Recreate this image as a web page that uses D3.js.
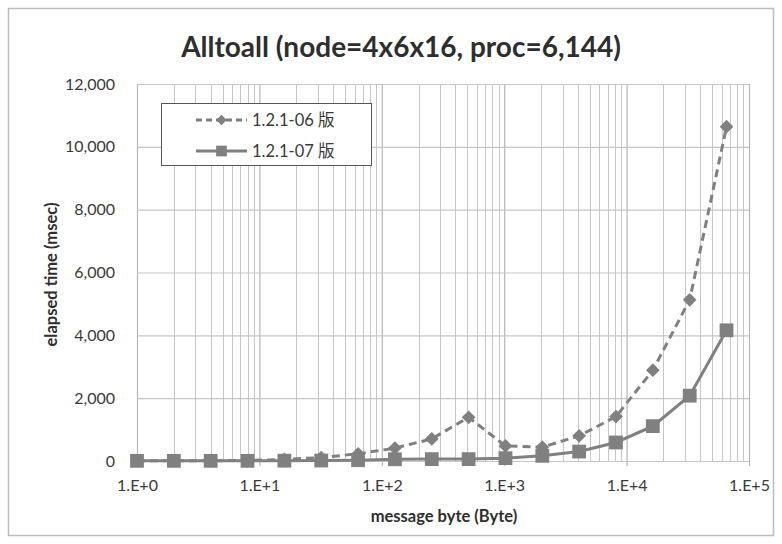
<!DOCTYPE html>
<html>
<head>
<meta charset="utf-8">
<script src="https://cdn.jsdelivr.net/npm/d3@7"></script>
<style>
  html, body { margin: 0; padding: 0; background: #fff; }
  svg { display: block; font-family: Lato, "Noto Sans", sans-serif; }
</style>
</head>
<body>
<svg id="chart" width="782" height="544"></svg>
<script>
  // message sizes in bytes (2^0 .. 2^16)
  const messageBytes = [1, 2, 4, 8, 16, 32, 64, 128, 256, 512, 1024, 2048, 4096, 8192, 16384, 32768, 65536];
  // elapsed time (msec)
  const v06 = [10, 10, 10, 15, 50, 110, 230, 410, 705, 1390, 480, 440, 800, 1415, 2890, 5130, 10640];
  const v07 = [5, 5, 5, 5, 10, 15, 25, 55, 60, 60, 90, 165, 300, 590, 1110, 2080, 4160];

  const seriesNames = ['1.2.1-06 版', '1.2.1-07 版'];
  const xTicks = [1, 10, 100, 1000, 10000, 100000];
  const yTicks = [0, 2000, 4000, 6000, 8000, 10000, 12000];

  const MARK = '#808080';
  const GRID = '#c6c6c6';
  const TEXT = '#3a3a3a';

  const svg = d3.select('#chart');
  const margin = { left: 137, right: 33, top: 84, bottom: 83 };
  const W = 782, H = 544;

  // outer frame
  svg.append('rect')
    .attr('x', 8.5).attr('y', 8.5)
    .attr('width', W - 17).attr('height', H - 17)
    .attr('fill', '#fff')
    .attr('stroke', '#bdbdbd')
    .attr('stroke-width', 1.5);

  const x = d3.scaleLog()
    .domain([1, 100000])
    .range([margin.left, W - margin.right]);
  const y = d3.scaleLinear()
    .domain([0, 12000])
    .range([H - margin.bottom, margin.top]);

  // minor vertical grid (2..9 per decade)
  const minor = [];
  xTicks.slice(0, -1).forEach(d => { for (let k = 2; k <= 9; k++) minor.push(d * k); });

  const grid = svg.append('g');
  grid.selectAll('line.minor')
    .data(minor)
    .join('line')
    .attr('class', 'minor')
    .attr('x1', d => Math.round(x(d)) + 0.5).attr('x2', d => Math.round(x(d)) + 0.5)
    .attr('y1', y(12000)).attr('y2', y(0))
    .attr('stroke', GRID).attr('stroke-width', 1);

  // major vertical grid + x axis
  const xAxis = svg.append('g')
    .attr('transform', 'translate(0,' + y(0) + ')')
    .call(d3.axisBottom(x)
      .tickValues(xTicks)
      .tickSize(-(y(0) - y(12000)))
      .tickPadding(19)
      .tickFormat(d => '1.E+' + Math.round(Math.log10(d))));
  xAxis.select('.domain').remove();
  xAxis.selectAll('line')
    .attr('stroke', '#b5b5b5').attr('stroke-width', 1.2)
    .attr('y1', 5).attr('y2', -(y(0) - y(12000)));
  xAxis.selectAll('text')
    .attr('fill', TEXT)
    .attr('font-size', '16px')
    .attr('font-family', 'Lato, sans-serif');

  // horizontal grid + y axis
  const yAxis = svg.append('g')
    .attr('transform', 'translate(' + x(1) + ',0)')
    .call(d3.axisLeft(y)
      .tickValues(yTicks)
      .tickSize(-(x(100000) - x(1)))
      .tickPadding(22)
      .tickFormat(d3.format(',')));
  yAxis.select('.domain').remove();
  yAxis.selectAll('line').attr('stroke', GRID).attr('stroke-width', 1.2);
  yAxis.selectAll('text')
    .attr('fill', TEXT)
    .attr('font-size', '16px')
    .attr('font-family', 'Lato, sans-serif');

  // series
  const lineGen = d3.line()
    .x((d, i) => x(messageBytes[i]))
    .y(d => y(d));

  const plot = svg.append('g');

  plot.append('path')
    .datum(v06)
    .attr('d', lineGen)
    .attr('fill', 'none')
    .attr('stroke', MARK)
    .attr('stroke-width', 3)
    .attr('stroke-dasharray', '8,5');

  plot.append('path')
    .datum(v07)
    .attr('d', lineGen)
    .attr('fill', 'none')
    .attr('stroke', MARK)
    .attr('stroke-width', 3);

  const diamond = d3.symbol().type(d3.symbolDiamond2).size(120);
  const square = d3.symbol().type(d3.symbolSquare).size(190);

  plot.selectAll('path.d06')
    .data(v06)
    .join('path')
    .attr('class', 'd06')
    .attr('transform', (d, i) => 'translate(' + x(messageBytes[i]) + ',' + y(d) + ')')
    .attr('d', diamond)
    .attr('fill', MARK);

  plot.selectAll('path.s07')
    .data(v07)
    .join('path')
    .attr('class', 's07')
    .attr('transform', (d, i) => 'translate(' + x(messageBytes[i]) + ',' + y(d) + ')')
    .attr('d', square)
    .attr('fill', MARK);

  // title
  svg.append('text')
    .attr('x', 401).attr('y', 57)
    .attr('text-anchor', 'middle')
    .attr('font-size', '28px')
    .attr('font-weight', 'bold')
    .attr('fill', '#2e2e2e')
    .text('Alltoall (node=4x6x16, proc=6,144)');

  // axis titles
  svg.append('text')
    .attr('x', 444).attr('y', 522)
    .attr('text-anchor', 'middle')
    .attr('font-size', '16.5px')
    .attr('font-weight', 'bold')
    .attr('fill', '#2e2e2e')
    .text('message byte (Byte)');

  svg.append('text')
    .attr('transform', 'translate(57,' + (y(6000) + 2) + ') rotate(-90)')
    .attr('text-anchor', 'middle')
    .attr('font-size', '16.5px')
    .attr('font-weight', 'bold')
    .attr('fill', '#2e2e2e')
    .text('elapsed time (msec)');

  // legend
  const legend = svg.append('g').attr('transform', 'translate(161,103)');
  legend.append('rect')
    .attr('x', 0.5).attr('y', 0.5)
    .attr('width', 210).attr('height', 62)
    .attr('fill', '#fff')
    .attr('stroke', '#555')
    .attr('stroke-width', 1);

  const legDiamond = d3.symbol().type(d3.symbolDiamond2).size(70);
  const legSquare = d3.symbol().type(d3.symbolSquare).size(115);

  const items = legend.selectAll('g.item')
    .data(seriesNames)
    .join('g')
    .attr('class', 'item')
    .attr('transform', (d, i) => 'translate(35,' + (17 + i * 31) + ')');

  items.append('line')
    .attr('x1', 0).attr('x2', 51)
    .attr('stroke', MARK)
    .attr('stroke-width', 3)
    .attr('stroke-dasharray', (d, i) => i === 0 ? '6,4' : null);

  items.append('path')
    .attr('transform', 'translate(25.5,0)')
    .attr('d', (d, i) => i === 0 ? legDiamond() : legSquare())
    .attr('fill', MARK);

  items.append('text')
    .attr('x', 56).attr('y', 6)
    .attr('font-size', '16.5px')
    .attr('fill', TEXT)
    .attr('font-family', 'Lato, "Noto Sans CJK JP", sans-serif')
    .text(d => d);
</script>
</body>
</html>
